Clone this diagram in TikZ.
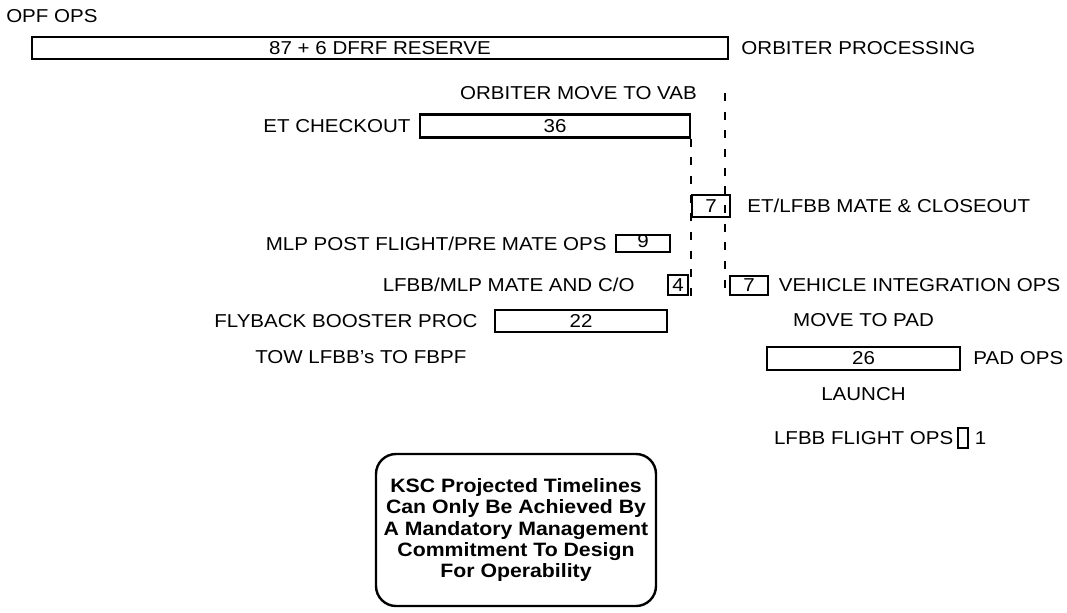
\documentclass[tikz,border=0pt]{standalone}
\usepackage{fontspec}
\setmainfont[FakeStretch=1.1]{Liberation Sans}
\usetikzlibrary{positioning}

\begin{document}
\begin{tikzpicture}[
    x=0.75pt, y=-0.75pt,
    every node/.style={font=\fontsize{14}{16}\selectfont},
    bar/.style={draw, line width=1.8pt, inner sep=0pt,
                minimum height=16.5pt},
    tag/.style={inner sep=0pt},
    link/.style={line width=1.8pt, dash pattern=on 6pt off 8pt}
  ]
  \useasboundingbox (0,0) rectangle (1067,612);

  % OPF flow
  \node[tag, anchor=west] (opf) at (6,16) {OPF OPS};
  \node[bar, minimum width=522pt] (orb) at (380,48) {87 + 6 DFRF RESERVE};
  \node[tag, right=9pt of orb] (orbp) {ORBITER PROCESSING};
  \node[tag, anchor=east] (vab) at (697,93) {ORBITER MOVE TO VAB};

  % ET flow
  \node[bar, minimum width=202.5pt, minimum height=17pt] (et) at (555,126) {36};
  \node[tag, left=6pt of et] (etl) {ET CHECKOUT};
  \node[bar, minimum width=28.5pt] (mate) at (711,206) {7};
  \node[tag, right=12pt of mate] (matel) {ET/LFBB MATE \& CLOSEOUT};

  % MLP and booster flow
  \node[bar, minimum width=40.5pt, minimum height=13pt,
        label={[yshift=1.5pt]center:9}] (mlp) at (643,243.5) {};
  \node[tag, left=6pt of mlp] (mlpl) {MLP POST FLIGHT/PRE MATE OPS};
  \node[bar, minimum width=15pt, minimum height=15pt] (lfbb) at (678,285) {4};
  \node[tag, left=24pt of lfbb] (lfbbl) {LFBB/MLP MATE AND C/O};
  \node[bar, minimum width=28.5pt, minimum height=14.25pt] (vio) at (749,285.5) {7};
  \node[tag, right=7pt of vio] (viol) {VEHICLE INTEGRATION OPS};
  \node[bar, minimum width=129pt] (fbp) at (581,321) {22};
  \node[tag, left=12pt of fbp] (fbpl) {FLYBACK BOOSTER PROC};
  \node[tag, anchor=west] (tow) at (255,357) {TOW LFBB's TO FBPF};

  % pad flow
  \node[bar, minimum width=144.75pt, minimum height=17pt] (pad) at (863.5,358.5) {26};
  \node[tag, above=14pt of pad] (mtp) {MOVE TO PAD};
  \node[tag, right=9pt of pad] (padl) {PAD OPS};
  \node[tag, below=12pt of pad] (lau) {LAUNCH};
  \node[bar, minimum width=7.5pt, minimum height=15pt] (flt) at (963,438) {};
  \node[tag, left=2.5pt of flt] (fltl) {LFBB FLIGHT OPS};
  \node[tag, right=4pt of flt] (fltn) {1};

  % dashed hand-overs
  \coordinate (vtop) at (725,93);
  \draw[link] (et.south east) -- (et.south east |- lfbb.south);
  \draw[link] (vtop) -- (vtop |- vio.south);

  \node[draw, line width=1.8pt, rounded corners=15pt, minimum width=210pt,
        minimum height=114pt, align=center,
        font=\fontsize{14.5}{16}\selectfont\bfseries] (note) at (516,530)
    {KSC Projected Timelines\\Can Only Be Achieved By\\A Mandatory Management\\
     Commitment To Design\\For Operability};
\end{tikzpicture}
\end{document}
